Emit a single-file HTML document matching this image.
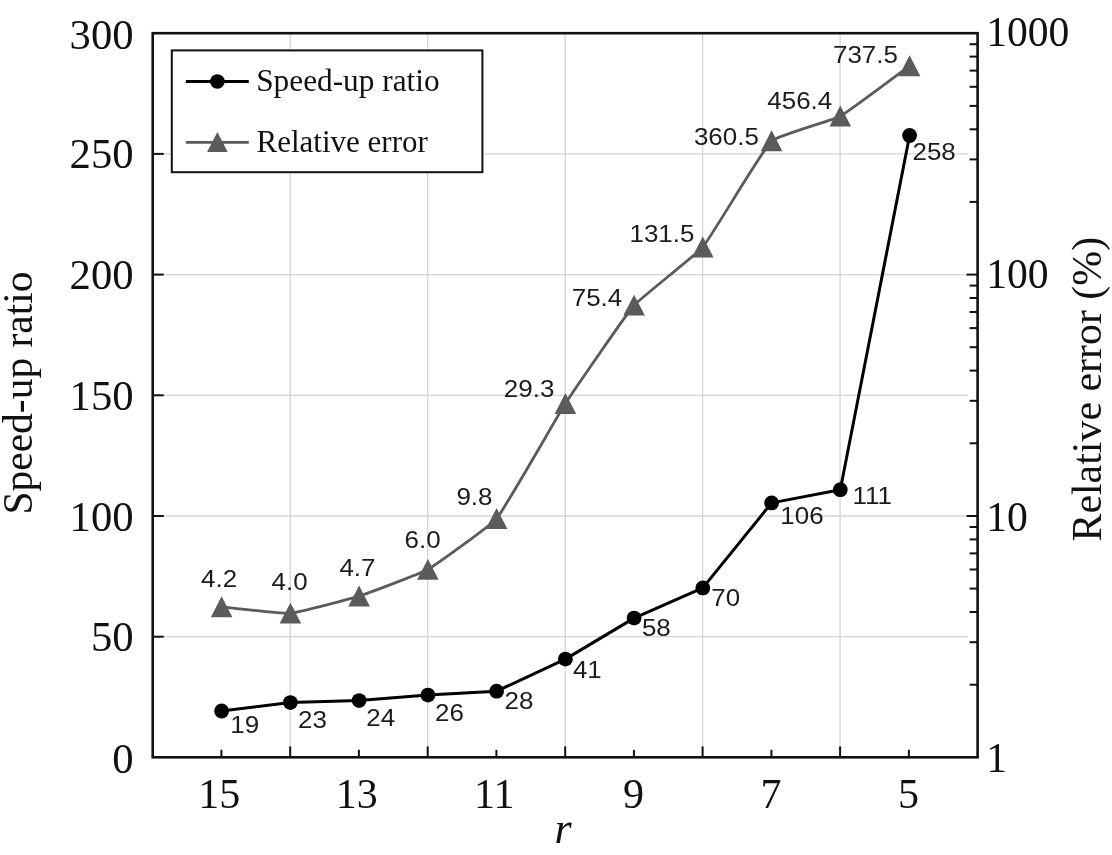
<!DOCTYPE html>
<html lang="en"><head><meta charset="utf-8"><title>Speed-up ratio and relative error vs r</title>
<style>html,body{margin:0;padding:0;background:#fff}body{width:1112px;height:855px;overflow:hidden}svg{display:block;filter:blur(0.55px)}.tk{font-family:"Liberation Serif", "Times New Roman", serif;font-size:42px;fill:#111}.tt{font-family:"Liberation Serif", "Times New Roman", serif;font-size:41.5px;fill:#111}.lg{font-family:"Liberation Serif", "Times New Roman", serif;font-size:31px;fill:#111}.dl{font-family:"Liberation Sans", Arial, sans-serif;font-size:24.5px;fill:#1c1c1c}</style></head><body>
<svg width="1112" height="855" viewBox="0 0 1112 855">
<rect x="0" y="0" width="1112" height="855" fill="#fff"/>
<g stroke="#d4d4d4" stroke-width="1.3" fill="none">
<line x1="152.7" y1="636.7" x2="968.0" y2="636.7"/>
<line x1="152.7" y1="516.0" x2="968.0" y2="516.0"/>
<line x1="152.7" y1="395.3" x2="968.0" y2="395.3"/>
<line x1="152.7" y1="274.6" x2="968.0" y2="274.6"/>
<line x1="152.7" y1="153.9" x2="968.0" y2="153.9"/>
<line x1="290.2" y1="33.2" x2="290.2" y2="757.4"/>
<line x1="427.7" y1="33.2" x2="427.7" y2="757.4"/>
<line x1="565.2" y1="33.2" x2="565.2" y2="757.4"/>
<line x1="702.6" y1="33.2" x2="702.6" y2="757.4"/>
<line x1="840.1" y1="33.2" x2="840.1" y2="757.4"/>
</g>
<g stroke="#111" stroke-width="2" fill="none">
<line x1="152.7" y1="636.7" x2="163.7" y2="636.7"/>
<line x1="152.7" y1="516.0" x2="163.7" y2="516.0"/>
<line x1="152.7" y1="395.3" x2="163.7" y2="395.3"/>
<line x1="152.7" y1="274.6" x2="163.7" y2="274.6"/>
<line x1="152.7" y1="153.9" x2="163.7" y2="153.9"/>
<line x1="221.4" y1="757.4" x2="221.4" y2="749.8"/>
<line x1="290.2" y1="757.4" x2="290.2" y2="746.4"/>
<line x1="358.9" y1="757.4" x2="358.9" y2="749.8"/>
<line x1="427.7" y1="757.4" x2="427.7" y2="746.4"/>
<line x1="496.4" y1="757.4" x2="496.4" y2="749.8"/>
<line x1="565.2" y1="757.4" x2="565.2" y2="746.4"/>
<line x1="633.9" y1="757.4" x2="633.9" y2="749.8"/>
<line x1="702.6" y1="757.4" x2="702.6" y2="746.4"/>
<line x1="771.4" y1="757.4" x2="771.4" y2="749.8"/>
<line x1="840.1" y1="757.4" x2="840.1" y2="746.4"/>
<line x1="908.9" y1="757.4" x2="908.9" y2="749.8"/>
<line x1="977.6" y1="684.7" x2="969.6" y2="684.7"/>
<line x1="977.6" y1="642.2" x2="969.6" y2="642.2"/>
<line x1="977.6" y1="612.0" x2="969.6" y2="612.0"/>
<line x1="977.6" y1="588.6" x2="969.6" y2="588.6"/>
<line x1="977.6" y1="569.5" x2="969.6" y2="569.5"/>
<line x1="977.6" y1="553.4" x2="969.6" y2="553.4"/>
<line x1="977.6" y1="539.4" x2="969.6" y2="539.4"/>
<line x1="977.6" y1="527.0" x2="969.6" y2="527.0"/>
<line x1="977.6" y1="516.0" x2="966.6" y2="516.0"/>
<line x1="977.6" y1="443.3" x2="969.6" y2="443.3"/>
<line x1="977.6" y1="400.8" x2="969.6" y2="400.8"/>
<line x1="977.6" y1="370.6" x2="969.6" y2="370.6"/>
<line x1="977.6" y1="347.2" x2="969.6" y2="347.2"/>
<line x1="977.6" y1="328.1" x2="969.6" y2="328.1"/>
<line x1="977.6" y1="312.0" x2="969.6" y2="312.0"/>
<line x1="977.6" y1="298.0" x2="969.6" y2="298.0"/>
<line x1="977.6" y1="285.6" x2="969.6" y2="285.6"/>
<line x1="977.6" y1="274.6" x2="966.6" y2="274.6"/>
<line x1="977.6" y1="201.9" x2="969.6" y2="201.9"/>
<line x1="977.6" y1="159.4" x2="969.6" y2="159.4"/>
<line x1="977.6" y1="129.3" x2="969.6" y2="129.3"/>
<line x1="977.6" y1="105.9" x2="969.6" y2="105.9"/>
<line x1="977.6" y1="86.8" x2="969.6" y2="86.8"/>
<line x1="977.6" y1="70.6" x2="969.6" y2="70.6"/>
<line x1="977.6" y1="56.6" x2="969.6" y2="56.6"/>
<line x1="977.6" y1="44.2" x2="969.6" y2="44.2"/>
</g>
<path fill="none" stroke="#5b5b5b" stroke-width="2.8" stroke-linejoin="round" d="M221.6,606.9 C228.5,607.6 283.6,613.9 290.4,613.3 C297.3,612.8 352.4,598.4 359.1,596.2 C366.1,594.0 421.5,573.1 427.9,569.5 C435.2,565.3 491.3,525.1 496.6,518.6 C505.0,508.5 558.1,414.9 565.4,403.6 C571.8,393.6 626.2,314.2 634.1,305.3 C640.0,298.6 697.1,253.9 702.8,247.1 C710.9,237.5 762.9,149.2 771.6,140.9 C776.6,136.1 834.0,119.7 840.3,116.2 C847.8,112.2 902.6,70.9 909.6,65.9"/>
<polyline fill="none" stroke="#000" stroke-width="3" stroke-linejoin="round" points="221.6,711.0 290.4,702.6 359.1,700.6 427.9,695.1 496.6,691.2 565.4,659.1 634.1,618.1 702.8,587.9 771.6,502.9 840.3,489.7 909.6,135.5"/>
<polygon fill="#5b5b5b" points="221.6,596.3 232.4,617.2 210.8,617.2"/>
<polygon fill="#5b5b5b" points="290.4,602.7 301.2,623.6 279.6,623.6"/>
<polygon fill="#5b5b5b" points="359.1,585.6 369.9,606.5 348.3,606.5"/>
<polygon fill="#5b5b5b" points="427.9,558.9 438.7,579.8 417.1,579.8"/>
<polygon fill="#5b5b5b" points="496.6,508.0 507.4,528.9 485.8,528.9"/>
<polygon fill="#5b5b5b" points="565.4,393.0 576.2,413.9 554.6,413.9"/>
<polygon fill="#5b5b5b" points="634.1,294.7 644.9,315.6 623.3,315.6"/>
<polygon fill="#5b5b5b" points="702.8,236.5 713.6,257.4 692.0,257.4"/>
<polygon fill="#5b5b5b" points="771.6,130.3 782.4,151.2 760.8,151.2"/>
<polygon fill="#5b5b5b" points="840.3,105.6 851.1,126.5 829.5,126.5"/>
<polygon fill="#5b5b5b" points="909.6,55.3 920.4,76.2 898.8,76.2"/>
<circle cx="221.6" cy="711.0" r="7.4" fill="#000"/>
<circle cx="290.4" cy="702.6" r="7.4" fill="#000"/>
<circle cx="359.1" cy="700.6" r="7.4" fill="#000"/>
<circle cx="427.9" cy="695.1" r="7.4" fill="#000"/>
<circle cx="496.6" cy="691.2" r="7.4" fill="#000"/>
<circle cx="565.4" cy="659.1" r="7.4" fill="#000"/>
<circle cx="634.1" cy="618.1" r="7.4" fill="#000"/>
<circle cx="702.8" cy="587.9" r="7.4" fill="#000"/>
<circle cx="771.6" cy="502.9" r="7.4" fill="#000"/>
<circle cx="840.3" cy="489.7" r="7.4" fill="#000"/>
<circle cx="909.6" cy="135.5" r="7.4" fill="#000"/>
<rect x="152.7" y="33.2" width="824.9" height="724.1" fill="none" stroke="#111" stroke-width="2.6"/>
<rect x="171.8" y="50.4" width="310.6" height="121.8" fill="#fff" stroke="#111" stroke-width="2"/>
<line x1="185.8" y1="81.5" x2="248.8" y2="81.5" stroke="#000" stroke-width="2.8"/>
<circle cx="217.4" cy="81.5" r="7.3" fill="#000"/>
<line x1="185.8" y1="142.4" x2="248.8" y2="142.4" stroke="#5b5b5b" stroke-width="2.6"/>
<polygon fill="#5b5b5b" points="217.4,132.0 227.7,152.1 207.1,152.1"/>
<text class="lg" x="256.2" y="91.4" style="font-size:31.3px">Speed-up ratio</text>
<text class="lg" x="256.5" y="152.2">Relative error</text>
<text class="tk" style="font-size:42.7px" text-anchor="end" x="133.6" y="773.2">0</text>
<text class="tk" style="font-size:42.7px" text-anchor="end" x="133.6" y="651.0">50</text>
<text class="tk" style="font-size:42.7px" text-anchor="end" x="133.6" y="530.7">100</text>
<text class="tk" style="font-size:42.7px" text-anchor="end" x="133.6" y="409.7">150</text>
<text class="tk" style="font-size:42.7px" text-anchor="end" x="133.6" y="288.9">200</text>
<text class="tk" style="font-size:42.7px" text-anchor="end" x="133.6" y="167.7">250</text>
<text class="tk" style="font-size:42.7px" text-anchor="end" x="133.6" y="49.2">300</text>
<text class="tk" style="font-size:41.6px" x="986.2" y="772.2">1</text>
<text class="tk" style="font-size:41.6px" x="986.2" y="531.4">10</text>
<text class="tk" style="font-size:41.6px" x="986.2" y="287.6">100</text>
<text class="tk" style="font-size:41.6px" x="986.2" y="46.3">1000</text>
<text class="tk" text-anchor="middle" x="219.2" y="808.0">15</text>
<text class="tk" text-anchor="middle" x="356.7" y="808.0">13</text>
<text class="tk" text-anchor="middle" x="494.2" y="808.0">11</text>
<text class="tk" text-anchor="middle" x="633.5" y="808.0">9</text>
<text class="tk" text-anchor="middle" x="771.0" y="808.0">7</text>
<text class="tk" text-anchor="middle" x="908.5" y="808.0">5</text>
<text class="tt" text-anchor="middle" transform="translate(31.6,393) rotate(-90)">Speed-up ratio</text>
<text class="tt" text-anchor="middle" transform="translate(1100.5,389.2) rotate(-90)" style="font-size:41.9px">Relative error (%)</text>
<text class="tt" font-style="italic" font-size="44" style="font-size:44px" x="554.5" y="842.5">r</text>
<text class="dl" transform="translate(230.2,733.4) scale(1.06,1)">19</text>
<text class="dl" transform="translate(298.1,727.6) scale(1.06,1)">23</text>
<text class="dl" transform="translate(366.3,726.0) scale(1.06,1)">24</text>
<text class="dl" transform="translate(435.1,720.5) scale(1.06,1)">26</text>
<text class="dl" transform="translate(504.5,708.9) scale(1.06,1)">28</text>
<text class="dl" transform="translate(572.9,677.7) scale(1.06,1)">41</text>
<text class="dl" transform="translate(641.9,636.0) scale(1.06,1)">58</text>
<text class="dl" transform="translate(711.3,606.3) scale(1.06,1)">70</text>
<text class="dl" transform="translate(780.3,524.3) scale(1.06,1)">106</text>
<text class="dl" transform="translate(852.4,504.4) scale(1.06,1)">111</text>
<text class="dl" transform="translate(912.5,160.0) scale(1.06,1)">258</text>
<text class="dl" transform="translate(201.1,586.9) scale(1.06,1)">4.2</text>
<text class="dl" transform="translate(271.5,590.0) scale(1.06,1)">4.0</text>
<text class="dl" transform="translate(339.4,575.9) scale(1.06,1)">4.7</text>
<text class="dl" transform="translate(404.5,547.5) scale(1.06,1)">6.0</text>
<text class="dl" transform="translate(456.4,504.5) scale(1.06,1)">9.8</text>
<text class="dl" transform="translate(503.8,396.8) scale(1.06,1)">29.3</text>
<text class="dl" transform="translate(571.7,305.5) scale(1.06,1)">75.4</text>
<text class="dl" transform="translate(629.5,241.9) scale(1.06,1)">131.5</text>
<text class="dl" transform="translate(693.9,144.7) scale(1.06,1)">360.5</text>
<text class="dl" transform="translate(767.3,108.6) scale(1.06,1)">456.4</text>
<text class="dl" transform="translate(833.0,62.7) scale(1.06,1)">737.5</text>
</svg></body></html>
